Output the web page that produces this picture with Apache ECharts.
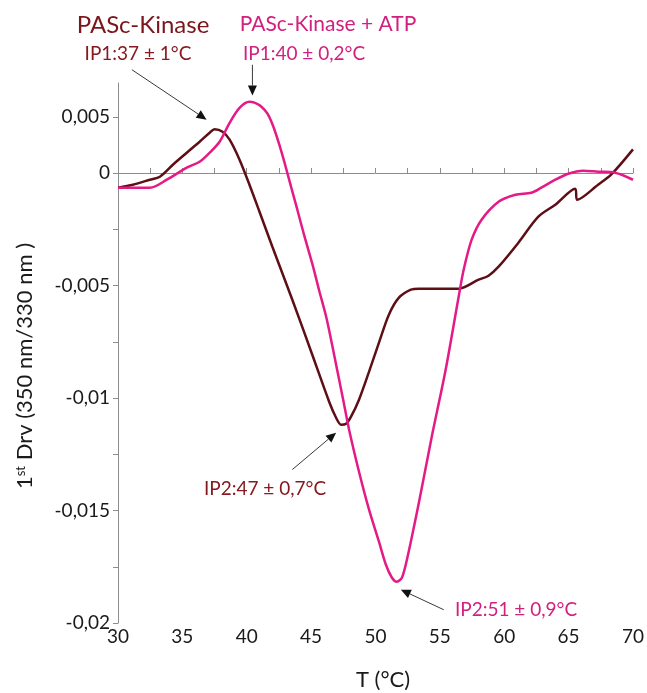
<!DOCTYPE html>
<html>
<head>
<meta charset="utf-8">
<script src="https://cdn.jsdelivr.net/npm/echarts@6/dist/echarts.min.js"></script>
<style>
  html, body { margin: 0; padding: 0; background: #fff; }
  #main { width: 647px; height: 693px; }
</style>
</head>
<body>
<div id="main"></div>
<script>
// First derivative of the 350/330 nm fluorescence ratio versus temperature
const kinaseT = [30.00, 31.16, 32.48, 33.25, 34.26, 35.34, 36.34, 37.12, 37.50, 38.12, 38.67, 39.44, 40.21, 40.99, 41.99, 43.54, 45.09, 46.40, 46.94, 47.33, 47.72, 48.10, 48.72, 49.50, 50.27, 51.04, 51.82, 52.75, 53.37, 56.46, 58.01, 58.78, 59.56, 61.10, 62.65, 63.97, 65.51, 65.67, 67.29, 68.30, 70.00];
const kinaseDrv = [-0.000653, -0.000520, -0.000298, -0.000164, 0.000369, 0.000902, 0.001391, 0.001791, 0.001947, 0.001836, 0.001480, 0.000591, -0.000520, -0.001720, -0.003276, -0.005631, -0.008076, -0.010164, -0.010876, -0.011187, -0.011142, -0.010831, -0.010076, -0.008831, -0.007542, -0.006298, -0.005542, -0.005187, -0.005142, -0.005142, -0.004742, -0.004564, -0.004164, -0.003098, -0.001942, -0.001409, -0.000698, -0.001187, -0.000520, -0.000076, 0.001050];

const atpT = [30.00, 32.48, 33.79, 35.34, 36.34, 37.12, 37.89, 38.67, 39.44, 40.21, 40.60, 41.14, 41.61, 42.07, 42.53, 43.00, 43.46, 43.93, 44.47, 45.09, 45.63, 46.17, 46.63, 47.02, 47.49, 47.95, 48.72, 49.50, 50.27, 50.81, 51.28, 51.66, 52.05, 52.44, 53.37, 54.37, 55.45, 56.46, 56.85, 57.47, 58.24, 59.56, 60.87, 62.11, 62.88, 63.97, 64.97, 66.13, 67.29, 68.61, 70.00];
const atpDrv = [-0.000653, -0.000653, -0.000298, 0.000236, 0.000502, 0.000902, 0.001391, 0.002231, 0.002898, 0.003169, 0.003124, 0.002947, 0.002636, 0.002058, 0.001258, 0.000324, -0.000653, -0.001631, -0.002787, -0.004031, -0.005231, -0.006387, -0.007631, -0.008742, -0.010076, -0.011409, -0.013276, -0.014964, -0.016387, -0.017409, -0.017987, -0.018164, -0.017987, -0.017187, -0.014653, -0.011720, -0.008742, -0.005498, -0.004298, -0.002964, -0.002076, -0.001276, -0.000964, -0.000876, -0.000653, -0.000298, -0.000031, 0.000102, 0.000058, 0.000013, -0.000300];

// Axis ticks and their printed labels
const xTickValues = [30, 32.5, 35, 37.5, 40, 42.5, 45, 47.5, 50, 52.5, 55, 57.5, 60, 62.5, 65, 67.5, 70];
const xLabelValues = [30, 35, 40, 45, 50, 55, 60, 65, 70];
const yTickValues = [-0.02, -0.0175, -0.015, -0.0125, -0.01, -0.0075, -0.005, -0.0025, 0, 0.0025];
const yLabelValues = [-0.02, -0.015, -0.01, -0.005, 0, 0.0025];
const yLabelTexts = ['-0,02', '-0,015', '-0,01', '-0,005', '0', '0,005'];

// Annotation arrows, in data units: [T, drv] tail -> head
const arrows = [
  { from: [31.08, 0.00459], to: [36.88, 0.00237] },
  { from: [40.44, 0.00481], to: [40.44, 0.00344] },
  { from: [43.54, -0.01318], to: [46.94, -0.01154] },
  { from: [55.30, -0.01941], to: [51.97, -0.01852] }
];

const BROWN_LINE = '#5e0f16';
const BROWN_TEXT = '#861a20';
const PINK_LINE = '#e41a86';
const PINK_TEXT = '#d2207e';
const FONT = 'Lato, "Open Sans", sans-serif';

const zip = (xs, ys) => xs.map((x, i) => [x, ys[i]]);

const chart = echarts.init(document.getElementById('main'));
chart.setOption({
  animation: false,
  backgroundColor: '#ffffff',
  grid: { left: 118, right: 12, top: 83, bottom: 70 },
  xAxis: {
    type: 'value',
    min: 30,
    max: 70,
    axisLine: { lineStyle: { color: '#8c8c8c', width: 1 } },
    axisTick: { inside: true, length: 5, customValues: xTickValues, lineStyle: { color: '#8c8c8c' } },
    axisLabel: {
      customValues: xLabelValues,
      color: '#1a1a1a', fontSize: 19, fontFamily: FONT, margin: 4
    },
    splitLine: { show: false }
  },
  yAxis: {
    type: 'value',
    min: -0.02,
    max: 0.004,
    axisLine: { show: true, lineStyle: { color: '#8c8c8c', width: 1 } },
    axisTick: { show: true, length: 5, customValues: yTickValues, lineStyle: { color: '#8c8c8c' } },
    axisLabel: {
      customValues: yLabelValues,
      color: '#1a1a1a', fontSize: 19, fontFamily: FONT, margin: 8,
      formatter: function (v) {
        for (let i = 0; i < yLabelValues.length; i++) {
          if (Math.abs(yLabelValues[i] - v) < 1e-7) return yLabelTexts[i];
        }
        return '';
      }
    },
    splitLine: { show: false }
  },
  series: [
    {
      name: 'PASc-Kinase',
      type: 'line',
      data: zip(kinaseT, kinaseDrv),
      smooth: 0.3,
      showSymbol: false,
      lineStyle: { color: BROWN_LINE, width: 2.5 }
    },
    {
      name: 'PASc-Kinase + ATP',
      type: 'line',
      data: zip(atpT, atpDrv),
      smooth: 0.3,
      showSymbol: false,
      lineStyle: { color: PINK_LINE, width: 2.5 }
    }
  ]
});

function textEl(text, x, y, size, color) {
  return {
    type: 'text', x: x, y: y, z: 10,
    style: { text: text, fill: color, font: size + 'px ' + FONT, align: 'center', verticalAlign: 'middle' }
  };
}

function arrowEls() {
  const out = [];
  arrows.forEach(function (a) {
    const p0 = chart.convertToPixel({ gridIndex: 0 }, a.from);
    const p1 = chart.convertToPixel({ gridIndex: 0 }, a.to);
    const dx = p1[0] - p0[0], dy = p1[1] - p0[1];
    const len = Math.hypot(dx, dy);
    const ux = dx / len, uy = dy / len;
    const hl = 10, hw = 4.5;
    const bx = p1[0] - ux * hl, by = p1[1] - uy * hl;
    out.push({
      type: 'line', z: 10,
      shape: { x1: p0[0], y1: p0[1], x2: bx, y2: by },
      style: { stroke: '#3a3a3a', lineWidth: 1 }
    });
    out.push({
      type: 'polygon', z: 10,
      shape: { points: [[p1[0], p1[1]], [bx - uy * hw, by + ux * hw], [bx + uy * hw, by - ux * hw]] },
      style: { fill: '#111111' }
    });
  });
  return out;
}

const labels = [
  textEl('PASc-Kinase', 143, 25, 24, '#7a161c'),
  textEl('IP1:37 \u00b1 1\u00b0C', 138, 54, 19, BROWN_TEXT),
  textEl('PASc-Kinase + ATP', 328, 24, 21, PINK_TEXT),
  textEl('IP1:40 \u00b1 0,2\u00b0C', 304, 54, 19, PINK_TEXT),
  textEl('IP2:47 \u00b1 0,7\u00b0C', 265, 489, 19, BROWN_TEXT),
  textEl('IP2:51 \u00b1 0,9\u00b0C', 516, 610, 19, PINK_TEXT),
  textEl('T (\u00b0C)', 383, 680, 22, '#1a1a1a'),
  {
    type: 'text', x: 25, y: 366, rotation: Math.PI / 2, z: 10,
    style: {
      text: '{n|1}{s|st}{n| Drv (350 nm/330 nm )}',
      align: 'center', verticalAlign: 'middle',
      rich: {
        n: { fontSize: 22, fontFamily: FONT, fill: '#1a1a1a' },
        s: { fontSize: 13, fontFamily: FONT, fill: '#1a1a1a', padding: [0, 0, 9, 0] }
      }
    }
  }
];

chart.setOption({ graphic: labels.concat(arrowEls()) });
</script>
</body>
</html>
